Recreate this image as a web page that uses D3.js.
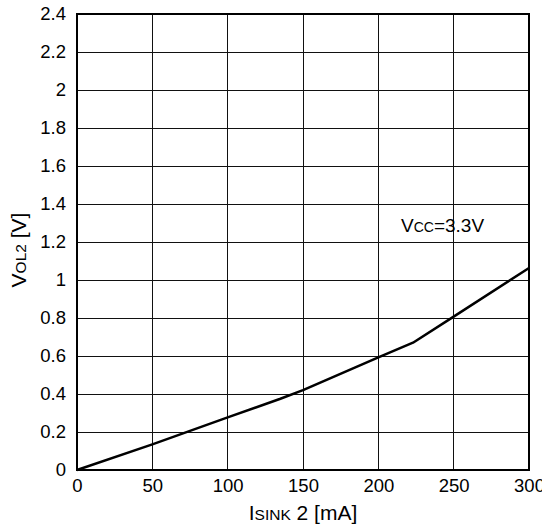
<!DOCTYPE html>
<html>
<head>
<meta charset="utf-8">
<script src="https://cdn.jsdelivr.net/npm/d3@7"></script>
<style>
  html, body { margin: 0; padding: 0; background: #fff; }
  svg { display: block; }
  text { font-family: "Liberation Sans", Arial, sans-serif; fill: #000; }
</style>
</head>
<body>
<svg id="chart" width="542" height="526"></svg>
<script>
// Output low voltage vs. sink current, Vcc = 3.3 V
const sinkCurrent = [0, 50, 100, 135, 150, 200, 223, 250, 300];      // mA
const outputLow   = [0, 0.135, 0.277, 0.375, 0.42, 0.593, 0.67, 0.807, 1.063]; // V
const xTicks = [0, 50, 100, 150, 200, 250, 300];
const yTicks = [0, 0.2, 0.4, 0.6, 0.8, 1, 1.2, 1.4, 1.6, 1.8, 2, 2.2, 2.4];

const svg = d3.select("#chart");
const plotLeft = 77, plotRight = 529, plotTop = 14, plotBottom = 470;

const x = d3.scaleLinear().domain([0, 300]).range([plotLeft, plotRight]);
const y = d3.scaleLinear().domain([0, 2.4]).range([plotBottom, plotTop]);

// grid
svg.append("g").selectAll("line").data(xTicks).join("line")
  .attr("x1", d => x(d)).attr("x2", d => x(d))
  .attr("y1", plotTop).attr("y2", plotBottom)
  .attr("stroke", "#111").attr("stroke-width", 1).attr("shape-rendering", "crispEdges");
svg.append("g").selectAll("line").data(yTicks).join("line")
  .attr("x1", plotLeft).attr("x2", plotRight)
  .attr("y1", d => y(d)).attr("y2", d => y(d))
  .attr("stroke", "#111").attr("stroke-width", 1).attr("shape-rendering", "crispEdges");

// frame
svg.append("rect")
  .attr("x", plotLeft).attr("y", plotTop)
  .attr("width", plotRight - plotLeft).attr("height", plotBottom - plotTop)
  .attr("fill", "none").attr("stroke", "#000").attr("stroke-width", 2);

// tick labels via axes
const xAxis = svg.append("g").attr("transform", `translate(0,${plotBottom})`)
  .call(d3.axisBottom(x).tickValues(xTicks).tickSize(0).tickPadding(9).tickFormat(d3.format("d")));
const yAxis = svg.append("g").attr("transform", `translate(${plotLeft},0)`)
  .call(d3.axisLeft(y).tickValues(yTicks).tickSize(0).tickPadding(11).tickFormat(d => String(+d.toFixed(1))));
[xAxis, yAxis].forEach(g => {
  g.select(".domain").remove();
  g.selectAll("text").attr("font-size", 18.5).attr("font-family", "Liberation Sans, Arial, sans-serif").attr("fill", "#000");
});

// curve
svg.append("path")
  .datum(sinkCurrent.map((c, i) => [c, outputLow[i]]))
  .attr("fill", "none").attr("stroke", "#000").attr("stroke-width", 2.5)
  .attr("stroke-linejoin", "round")
  .attr("d", d3.line().x(d => x(d[0])).y(d => y(d[1])));

// axis titles
const xt = svg.append("text").attr("x", 303).attr("y", 520).attr("text-anchor", "middle").attr("font-size", 21);
xt.append("tspan").text("I");
xt.append("tspan").attr("font-size", 15.5).text("SINK");
xt.append("tspan").text(" 2 [mA]");

const yt = svg.append("text").attr("transform", "translate(26,250) rotate(-90)")
  .attr("text-anchor", "middle").attr("font-size", 21);
yt.append("tspan").text("V");
yt.append("tspan").attr("font-size", 15.5).text("OL2");
yt.append("tspan").text(" [V]");

// condition label
const lab = svg.append("text").attr("x", 401).attr("y", 232).attr("font-size", 19);
lab.append("tspan").text("V");
lab.append("tspan").attr("font-size", 14).text("CC");
lab.append("tspan").text("=3.3V");
</script>
</body>
</html>
